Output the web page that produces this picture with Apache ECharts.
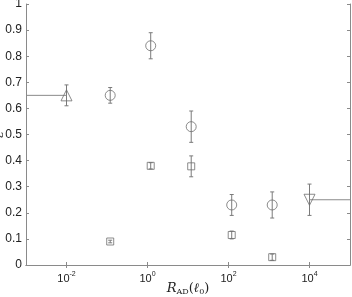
<!DOCTYPE html>
<html><head><meta charset="utf-8">
<script src="https://cdn.jsdelivr.net/npm/echarts@6/dist/echarts.min.js"></script>
<style>html,body{margin:0;padding:0;background:#fff}#c{width:352px;height:297px}</style>
</head><body><div id="c"></div>
<script>
// Data
const circleX = [0.12, 1.2, 12, 120, 1200];
const circleY = [0.65, 0.84, 0.53, 0.23, 0.23];
const circleErr = [0.03, 0.05, 0.06, 0.04, 0.05];
const squareX = [0.12, 1.2, 12, 120, 1200];
const squareY = [0.09, 0.38, 0.378, 0.115, 0.03];
const squareErr = [0.005, 0.012, 0.04, 0.015, 0.012];
const triUpX = [0.01];
const triUpY = [0.65];
const triUpErr = [0.04];
const triDownX = [10000];
const triDownY = [0.25];
const triDownErr = [0.06];
const leftLine = [[0.001, 0.65], [0.01, 0.65]];
const rightLine = [[10000, 0.25], [100000, 0.25]];
const xTickValues = [0.01, 1, 100, 10000];

const C = '#6e6e6e';
const AX = '#8a8a8a';

function pts(xs, ys) { return xs.map((x, i) => [x, ys[i]]); }
function errData(xs, ys, es) { return xs.map((x, i) => [x, ys[i] - es[i], ys[i] + es[i]]); }

function errSeries(xs, ys, es) {
  return {
    type: 'custom',
    data: errData(xs, ys, es),
    z: 1,
    silent: true,
    renderItem: function (params, api) {
      const x = api.value(0);
      const lo = api.coord([x, api.value(1)]);
      const hi = api.coord([x, api.value(2)]);
      const w = 2;
      const st = { stroke: '#7a7a7a', lineWidth: 1 };
      return {
        type: 'group',
        children: [
          { type: 'line', shape: { x1: lo[0], y1: lo[1], x2: hi[0], y2: hi[1] }, style: st },
          { type: 'line', shape: { x1: lo[0] - w, y1: lo[1], x2: lo[0] + w, y2: lo[1] }, style: st },
          { type: 'line', shape: { x1: hi[0] - w, y1: hi[1], x2: hi[0] + w, y2: hi[1] }, style: st }
        ]
      };
    }
  };
}

function scat(xs, ys, symbol, size, rot) {
  return {
    type: 'scatter', data: pts(xs, ys), symbol: symbol, symbolSize: size,
    symbolRotate: rot || 0, z: 3,
    itemStyle: { color: 'rgba(255,255,255,0)', borderColor: C, borderWidth: 1 }
  };
}

const chart = echarts.init(document.getElementById('c'), null, { renderer: 'canvas' });

function expOf(v) { return Math.round(Math.log10(v)); }

const option = {
  animation: false,
  grid: { left: 26, right: 2, top: 4, bottom: 32, containLabel: false, outerBoundsMode: 'none' },
  xAxis: [{
    type: 'log', logBase: 10, min: 0.001, max: 100000,
    axisLine: { lineStyle: { color: AX } },
    axisTick: { inside: true, length: 3, lineStyle: { color: AX }, customValues: xTickValues },
    splitLine: { show: false },
    axisLabel: {
      customValues: xTickValues,
      margin: 6,
      formatter: function (v) {
        return '{b|10}{s|' + expOf(v) + '}';
      },
      rich: {
        b: { fontFamily: 'Liberation Sans', fontSize: 11, color: '#222', verticalAlign: 'bottom' },
        s: { fontFamily: 'Liberation Sans', fontSize: 7, color: '#222', verticalAlign: 'top', padding: [0, 0, 6, 0] }
      }
    },
    name: '{r|R}{sub|AD}{p|(}{l|ℓ}{sub2|0}{p|)}',
    nameLocation: 'middle', nameGap: 17, nameMoveOverlap: false,
    nameTextStyle: {
      rich: {
        r: { fontFamily: 'DejaVu Serif', fontStyle: 'italic', fontSize: 13, color: '#222' },
        sub: { fontFamily: 'DejaVu Serif', fontSize: 8, color: '#222', padding: [6, 0, 0, 0] },
        p: { fontFamily: 'DejaVu Serif', fontSize: 13, color: '#222' },
        l: { fontFamily: 'DejaVu Serif', fontStyle: 'italic', fontSize: 13, color: '#222' },
        sub2: { fontFamily: 'DejaVu Serif', fontSize: 8, color: '#222', padding: [6, 0, 0, 0] }
      }
    }
  }, {
    type: 'log', logBase: 10, min: 0.001, max: 100000, position: 'top',
    axisLine: { lineStyle: { color: AX } },
    axisTick: { inside: true, length: 3, lineStyle: { color: AX }, customValues: xTickValues },
    axisLabel: { show: false }, splitLine: { show: false }
  }],
  yAxis: [{
    type: 'value', min: 0, max: 1, interval: 0.1,
    axisLine: { show: true, lineStyle: { color: AX } },
    axisTick: { show: true, inside: true, length: 3, lineStyle: { color: AX } },
    splitLine: { show: false },
    axisLabel: {
      margin: 4, fontFamily: 'Liberation Sans', fontSize: 12, color: '#222',
      formatter: function (v) { return String(Math.round(v * 10) / 10); }
    },
    name: 'ε', nameLocation: 'middle', nameGap: 20, nameRotate: 90, nameMoveOverlap: false,
    nameTextStyle: { fontFamily: 'DejaVu Serif', fontStyle: 'italic', fontSize: 12, color: '#222' }
  }, {
    type: 'value', min: 0, max: 1, interval: 0.1, position: 'right',
    axisLine: { show: true, lineStyle: { color: AX } },
    axisTick: { show: true, inside: true, length: 3, lineStyle: { color: AX } },
    axisLabel: { show: false }, splitLine: { show: false }
  }],
  series: [
    { type: 'line', data: leftLine, symbol: 'none', lineStyle: { color: '#8a8a8a', width: 1 }, z: 2 },
    { type: 'line', data: rightLine, symbol: 'none', lineStyle: { color: '#8a8a8a', width: 1 }, z: 2 },
    errSeries(circleX, circleY, circleErr),
    errSeries(squareX, squareY, squareErr),
    errSeries(triUpX, triUpY, triUpErr),
    errSeries(triDownX, triDownY, triDownErr),
    scat(circleX, circleY, 'circle', 10),
    scat(squareX, squareY, 'rect', 7),
    scat(triUpX, triUpY, 'triangle', 11, 0),
    scat(triDownX, triDownY, 'triangle', 11, 180)
  ]
};
chart.setOption(option);
</script></body></html>
